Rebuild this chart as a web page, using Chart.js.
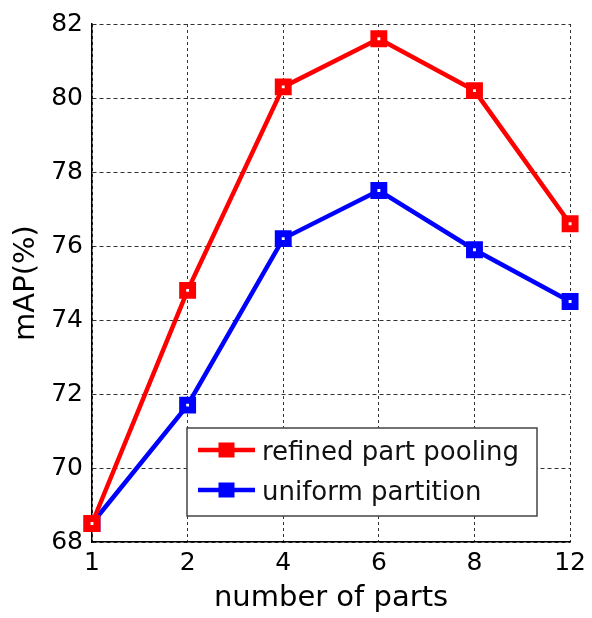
<!DOCTYPE html>
<html>
<head>
<meta charset="utf-8">
<script src="https://cdn.jsdelivr.net/npm/chart.js@4.4.1/dist/chart.umd.min.js"></script>
<style>
body{margin:0;background:#fff;}
canvas{display:block;}
</style>
</head>
<body>
<canvas id="partsChart" width="592" height="618"></canvas>
<script>
const partLabels = ["1","2","4","6","8","12"];
const refinedPooling = [68.5, 74.8, 80.3, 81.6, 80.2, 76.6];
const uniformPartition = [68.5, 71.7, 76.2, 77.5, 75.9, 74.5];
const yTicks = [68,70,72,74,76,78,80,82];
const seriesNames = ["refined part pooling","uniform partition"];
const seriesColors = ["#ff0000","#0000ff"];

const FONT = "'DejaVu Sans', sans-serif";

// legend box sitting inside the plot, lower right
const boxLegend = {
    id:"boxLegend",
    afterDraw(chart){
        const {ctx, chartArea} = chart;
        const x0 = chartArea.left + 95;
        const y0 = chartArea.bottom - 114;
        const w = 350, h = 88;
        ctx.save();
        ctx.fillStyle = "#fff";
        ctx.fillRect(x0, y0, w, h);
        ctx.strokeStyle = "#444";
        ctx.lineWidth = 1.5;
        ctx.strokeRect(x0, y0, w, h);
        ctx.font = "26px " + FONT;
        ctx.textBaseline = "middle";
        ctx.textAlign = "left";
        chart.data.datasets.forEach((ds,i)=>{
            const cy = y0 + 22 + i*40;
            ctx.strokeStyle = ds.borderColor;
            ctx.lineWidth = 4.5;
            ctx.beginPath();
            ctx.moveTo(x0+11, cy);
            ctx.lineTo(x0+68, cy);
            ctx.stroke();
            ctx.fillStyle = ds.borderColor;
            ctx.fillRect(x0+39.5-8, cy-7.5, 16, 15);
            ctx.fillStyle = "#111";
            ctx.fillText(ds.label, x0+75, cy+3);
        });
        ctx.restore();
    }
};

new Chart(document.getElementById("partsChart"),{
    type:"line",
    data:{
        labels:partLabels,
        datasets:[
            {
                label:seriesNames[0],
                data:refinedPooling,
                borderColor:seriesColors[0],
                backgroundColor:"#fff",
                borderWidth:4.5,
                pointStyle:"rect",
                pointRadius:7,
                pointBorderWidth:7,
                pointBackgroundColor:"#fff",
                pointBorderColor:seriesColors[0],
                tension:0,
                clip:false
            },
            {
                label:seriesNames[1],
                data:uniformPartition,
                borderColor:seriesColors[1],
                backgroundColor:"#fff",
                borderWidth:4.5,
                pointStyle:"rect",
                pointRadius:7,
                pointBorderWidth:7,
                pointBackgroundColor:"#fff",
                pointBorderColor:seriesColors[1],
                tension:0,
                clip:false
            }
        ]
    },
    options:{
        responsive:false,
        animation:false,
        layout:{ padding:{ top:23.5, right:19, left:0, bottom:0 } },
        plugins:{
            legend:{ display:false },
            tooltip:{ enabled:false }
        },
        scales:{
            x:{
                type:"category",
                offset:false,
                grid:{ color:"#333", lineWidth:1, drawTicks:false, offset:false },
                border:{ display:true, color:"#000", width:1.5, dash:[3,3] },
                ticks:{ color:"#000", font:{ family:FONT, size:25 }, padding:6, maxRotation:0, autoSkip:false },
                title:{ display:true, text:"number of parts", color:"#000",
                        font:{ family:FONT, size:29 }, padding:{ top:0, bottom:2 } },
                afterFit(scale){ scale.height = 76; }
            },
            y:{
                min:68,
                max:82,
                afterBuildTicks(scale){ scale.ticks = yTicks.map(v=>({ value:v })); },
                grid:{ color:"#333", lineWidth:1, drawTicks:false },
                border:{ display:true, color:"#000", width:1.5, dash:[4,3] },
                ticks:{ color:"#000", font:{ family:FONT, size:25 }, padding:9 },
                title:{ display:true, text:"mAP(%)", color:"#000",
                        font:{ family:FONT, size:29 }, padding:{ top:9, bottom:0 } },
                afterFit(scale){ scale.width = 92; }
            }
        }
    },
    plugins:[boxLegend]
});
</script>
</body>
</html>
